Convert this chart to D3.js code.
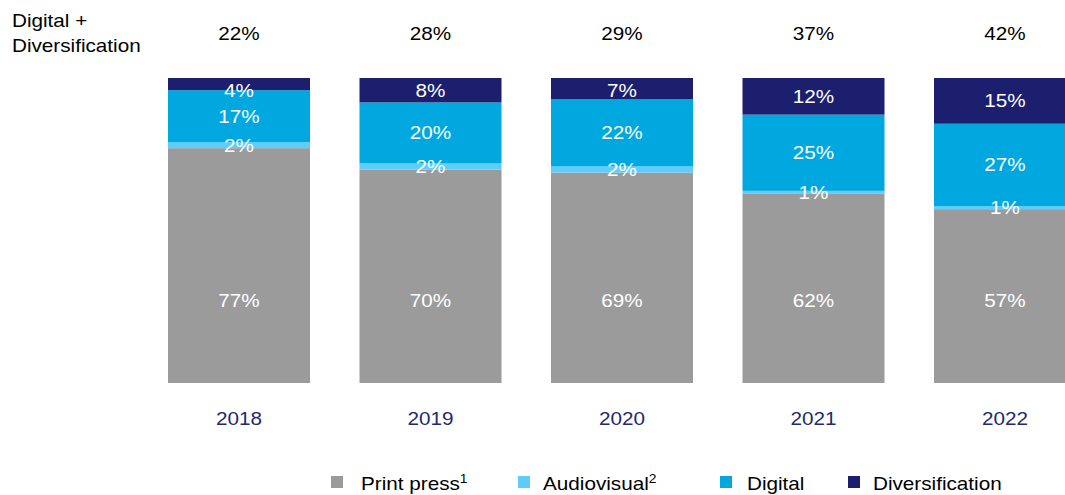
<!DOCTYPE html>
<html lang="en">
<head>
  <meta charset="UTF-8">
  <title>Revenue mix</title>
  <script src="https://cdn.jsdelivr.net/npm/d3@7/dist/d3.min.js"></script>
  <style>
    html, body {
      margin: 0;
      padding: 0;
      background: #fff;
      overflow: hidden;
    }
    svg {
      display: block;
      font-family: "Liberation Sans", Arial, sans-serif;
    }
  </style>
</head>
<body>
  <svg width="1065" height="495"></svg>

  <script>
    const years = ['2018', '2019', '2020', '2021', '2022']
    const printPress = [77, 70, 69, 62, 57]
    const audiovisual = [2, 2, 2, 1, 1]
    const digital = [17, 20, 22, 25, 27]
    const diversification = [4, 8, 7, 12, 15]
    const digitalPlusDiv = [22, 28, 29, 37, 42]

    const seriesNames = ['Print press', 'Audiovisual', 'Digital', 'Diversification']
    const seriesSup = ['1', '2', '', '']
    const colors = ['#9b9b9b', '#5fcdfb', '#00a8df', '#1c1e6e']

    // the source font is a bit wider than Liberation Sans at the same height
    const sx = 1.15
    const place = (px, py) => `translate(${px}, ${py}) scale(${sx}, 1)`

    const svg = d3.select('svg')

    const rows = years.map((y, i) => ({
      year: y,
      'Print press': printPress[i],
      'Audiovisual': audiovisual[i],
      'Digital': digital[i],
      'Diversification': diversification[i]
    }))

    const stack = d3.stack().keys(seriesNames)(rows)

    const x = d3.scaleBand()
      .domain(years)
      .range([168, 1076])
      .paddingInner(0.2585)
      .paddingOuter(0)

    const y = d3.scaleLinear()
      .domain([0, 100])
      .range([383, 78])

    const cx = yr => x(yr) + x.bandwidth() / 2

    const layers = svg.append('g')
      .selectAll('g')
      .data(stack)
      .join('g')
      .attr('fill', (d, i) => colors[i])

    layers.selectAll('rect')
      .data(d => d)
      .join('rect')
      .attr('x', d => x(d.data.year))
      .attr('width', x.bandwidth())
      .attr('y', d => y(d[1]))
      .attr('height', d => y(d[0]) - y(d[1]))

    // segment labels
    const labels = svg.append('g')
      .attr('fill', '#fff')
      .attr('font-size', 18)
      .attr('text-anchor', 'middle')

    stack.forEach((layer, si) => {
      labels.selectAll(null)
        .data(layer)
        .join('text')
        .attr('transform', d => {
          let cy = (y(d[0]) + y(d[1])) / 2
          if (si === 0) cy = y(27)
          if (si === 3) cy = Math.max(cy, y(d[1]) + 12)
          return place(cx(d.data.year), cy + 6.5)
        })
        .text(d => (d[1] - d[0]) + '%')
    })

    // totals on top
    svg.append('g')
      .attr('font-size', 18)
      .attr('text-anchor', 'middle')
      .attr('fill', '#000')
      .selectAll('text')
      .data(digitalPlusDiv)
      .join('text')
      .attr('transform', (d, i) => place(cx(years[i]), 40))
      .text(d => d + '%')

    svg.append('text')
      .attr('font-size', 18)
      .attr('transform', place(12, 27))
      .text('Digital +')
    svg.append('text')
      .attr('font-size', 18)
      .attr('transform', place(12, 52))
      .text('Diversification')

    // year axis
    const xAxis = svg.append('g')
      .attr('transform', 'translate(0, 425)')
      .call(d3.axisBottom(x).tickSize(0).tickPadding(0))
    xAxis.select('.domain').remove()
    xAxis.selectAll('.tick text')
      .attr('y', 0)
      .attr('dy', 0)
      .attr('transform', `scale(${sx}, 1)`)
      .attr('font-size', 18)
      .attr('font-family', '"Liberation Sans", Arial, sans-serif')
      .attr('fill', '#232a6c')

    // legend
    const legendX = [331, 518, 720, 848]
    const textGap = [30, 25, 27, 25]
    const legend = svg.append('g')
      .selectAll('g')
      .data(seriesNames)
      .join('g')
      .attr('transform', (d, i) => `translate(${legendX[i]}, 476)`)

    legend.append('rect')
      .attr('width', 12)
      .attr('height', 12)
      .attr('fill', (d, i) => colors[i])

    const lt = legend.append('text')
      .attr('transform', (d, i) => place(textGap[i], 14))
      .attr('font-size', 18)
      .attr('fill', '#000')
    lt.append('tspan').text(d => d)
    lt.append('tspan')
      .attr('font-size', 12)
      .attr('dy', -7)
      .text((d, i) => seriesSup[i])
  </script>
</body>
</html>
